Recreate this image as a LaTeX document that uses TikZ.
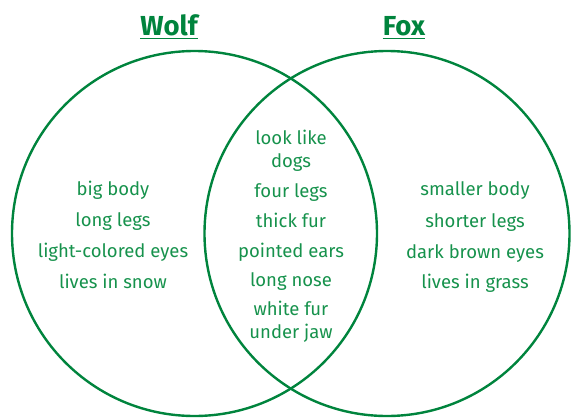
\documentclass[tikz,border=0pt]{standalone}
\usepackage{fontspec}
\setmainfont{Fira Sans}
\usetikzlibrary{positioning}
\definecolor{vennline}{RGB}{0,132,61}
\definecolor{venntext}{RGB}{22,146,76}
\tikzset{
	setcircle/.style={circle, draw=vennline, line width=2.4pt, minimum size=365pt, inner sep=0pt}
}
\tikzset{
	itemtext/.style={font=\fontsize{18.5}{22.5}\selectfont, text=venntext, align=center, anchor=base, inner sep=0pt}
}
\tikzset{
	titletext/.style={font=\fontsize{27.5}{30}\selectfont\bfseries, text=vennline, anchor=base, inner sep=0pt}
}

\begin{document}
\begin{tikzpicture}[x=1pt, y=-1pt]
  \useasboundingbox (0,0) rectangle (571,418);
  \node[setcircle] (wolf) at (194.5,233.5) {};
  \node[setcircle] (fox) at (387,233.5) {};
  \node[titletext] (wolftitle) at (169,35) {Wolf};
  \node[titletext] (foxtitle) at (404,35) {Fox};
  \draw[vennline, line width=1.6pt] ([yshift=-3.5pt]wolftitle.base west) -- ([yshift=-3.5pt]wolftitle.base east);
  \draw[vennline, line width=1.6pt] ([yshift=-3.5pt]foxtitle.base west) -- ([yshift=-3.5pt]foxtitle.base east);
  % wolf only
  \node[itemtext] (w1) at (113,195) {big body};
  \node[itemtext] (w2) at (113,226) {long legs};
  \node[itemtext] (w3) at (113,257) {light-colored eyes};
  \node[itemtext] (w4) at (113,288) {lives in snow};
  % both (multi-line: base is the last line)
  \node[itemtext] (b1) at (291,167) {look like\\dogs};
  \node[itemtext] (b2) at (291,197) {four legs};
  \node[itemtext] (b3) at (291,227) {thick fur};
  \node[itemtext] (b4) at (291,257) {pointed ears};
  \node[itemtext] (b5) at (291,286) {long nose};
  \node[itemtext] (b6) at (291,338) {white fur\\under jaw};
  % fox only
  \node[itemtext] (f1) at (475,195) {smaller body};
  \node[itemtext] (f2) at (475,227) {shorter legs};
  \node[itemtext] (f3) at (475,258) {dark brown eyes};
  \node[itemtext] (f4) at (475,288) {lives in grass};
\end{tikzpicture}
\end{document}
